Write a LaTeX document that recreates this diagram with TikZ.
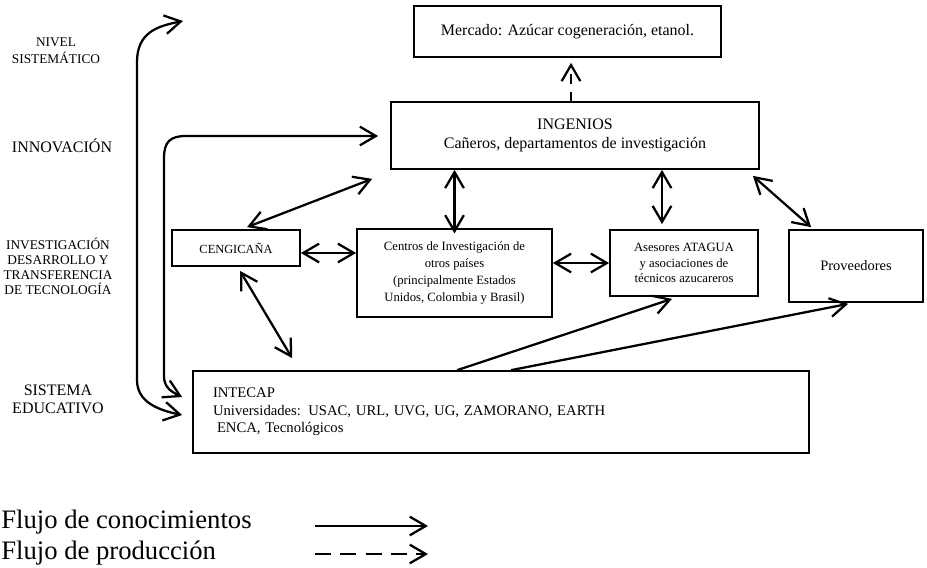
\documentclass[tikz,border=0pt]{standalone}
\usepackage{fontspec}
\setmainfont{Liberation Serif}
\usetikzlibrary{arrows.meta,calc}

\tikzset{
  box/.style={draw, line width=1.3pt, align=center, inner sep=0pt},
  lvl/.style={align=center, inner sep=0pt},
  flow/.style={line width=1.7pt, -{Straight Barb[length=12pt,width=14pt]}},
  twoway/.style={line width=1.7pt, {Straight Barb[length=12pt,width=14pt]}-{Straight Barb[length=12pt,width=14pt]}},
  prod/.style={flow, dash pattern=on 12pt off 7pt},
}

\begin{document}
\begin{tikzpicture}[x=0.75pt, y=-0.75pt]
\useasboundingbox (0,0) rectangle (927,567);

% levels
\node[lvl, font=\fontsize{10}{12.7}\selectfont] (nivel) at (56,51) {NIVEL\\SISTEMÁTICO};
\node[lvl, font=\fontsize{12}{14}\selectfont] (innov) at (62,146) {INNOVACIÓN};
\node[lvl, font=\fontsize{10}{11.3}\selectfont] (invest) at (58,266) {INVESTIGACIÓN\\DESARROLLO Y\\TRANSFERENCIA\\DE TECNOLOGÍA};
\node[lvl, font=\fontsize{12}{13.5}\selectfont] (sistema) at (58,399) {SISTEMA\\EDUCATIVO};

% boxes
\node[box, minimum width=230.25pt, minimum height=38.25pt, font=\fontsize{12}{14}\selectfont] (merc) at (567.5,31.5) {Mercado: Azúcar cogeneración, etanol.};
\node[box, minimum width=276pt, minimum height=50.25pt, font=\fontsize{12}{14.3}\selectfont] (ing) at (575,135.5) {INGENIOS\\Cañeros, departamentos de investigación};
\node[box, minimum width=96pt, minimum height=27pt, font=\fontsize{9.3}{11}\selectfont] (cen) at (236,248) {CENGICAÑA};
\node[box, minimum width=146.25pt, minimum height=66pt, font=\fontsize{9.5}{12.6}\selectfont] (inv) at (454.5,273) {Centros de Investigación de\\otros países\\(principalmente Estados\\Unidos, Colombia y Brasil)};
\node[box, minimum width=111pt, minimum height=49.5pt, font=\fontsize{9.5}{11.4}\selectfont] (ase) at (684,263) {Asesores ATAGUA\\y asociaciones de\\técnicos azucareros};
\node[box, minimum width=100.5pt, minimum height=54pt, font=\fontsize{10.8}{13}\selectfont] (prov) at (856,266) {Proveedores};
\node[draw, line width=1.3pt, align=left, inner xsep=15pt, inner ysep=0pt, text width=432pt, minimum height=61.5pt, font=\fontsize{11}{13.2}\selectfont] (edu) at (501,412) {INTECAP\\Universidades: USAC, URL, UVG, UG, ZAMORANO, EARTH\\\hspace{3pt}ENCA, Tecnológicos};

% free ends of the loops
\coordinate (toptip) at (183,21);
\coordinate (ingtip) at ($(ing.west)+(-12,0.5)$);
\coordinate (edutip) at ($(edu.west)+(-10,3)$);
\coordinate (edutipb) at ($(edu.west)+(-10,-15)$);

% loops on the left
\draw[twoway] (toptip) .. controls (158,26) and (137,32) .. (137,62) -- (137,380) .. controls (137,402) and (158,410) .. (edutip);
\draw[twoway] (edutipb) .. controls (172,392) and (164,388) .. (164,376) -- (164,158) .. controls (164,142) and (170,136) .. (186,136) -- (ingtip);

% flows between boxes
\draw[prod, dash pattern=on 7pt off 6pt] ($(ing.north)+(-4,0)$) -- ($(merc.south)+(3.5,5)$);
\draw[twoway] ($(cen.north)+(11,-2)$) -- ($(ing.south west)+(-18,9)$);
\draw[twoway] (inv.north |- ing.south) -- ([yshift=-4pt]inv.north);
\draw[twoway] ($(ase.north |- ing.south)+(-22,0)$) -- ($(ase.north)+(-22,-5)$);
\draw[twoway] ($(ing.south east)+(-7,6)$) -- ($(prov.north west)+(23,-2)$);
\draw[twoway] ($(cen.east)+(0,5)$) -- ($(inv.west |- cen.east)+(0,5)$);
\draw[twoway] (inv.east |- ase.west) -- (ase.west);
\draw[twoway] ($(cen.south)+(4,4)$) -- ($(edu.north west)+(100,-12)$);
\draw[flow] ($(edu.north west)+(265,0)$) -- ($(ase.south)+(-12,2)$);
\draw[flow] ($(edu.north west)+(319,0)$) -- ($(prov.south west)+(60,1)$);

% legend
\node[anchor=base west, inner sep=0pt, font=\fontsize{20}{24}\selectfont] (lgk) at (1,528) {Flujo de conocimientos};
\node[anchor=base west, inner sep=0pt, font=\fontsize{20}{24}\selectfont] (lgp) at (1,559) {Flujo de producción};
\coordinate (lk1) at (315,526);
\coordinate (lk2) at (428,526);
\coordinate (lp1) at (315,554);
\coordinate (lp2) at (428,554);
\draw[flow] (lk1) -- (lk2);
\draw[prod] (lp1) -- (lp2);
\end{tikzpicture}
\end{document}
